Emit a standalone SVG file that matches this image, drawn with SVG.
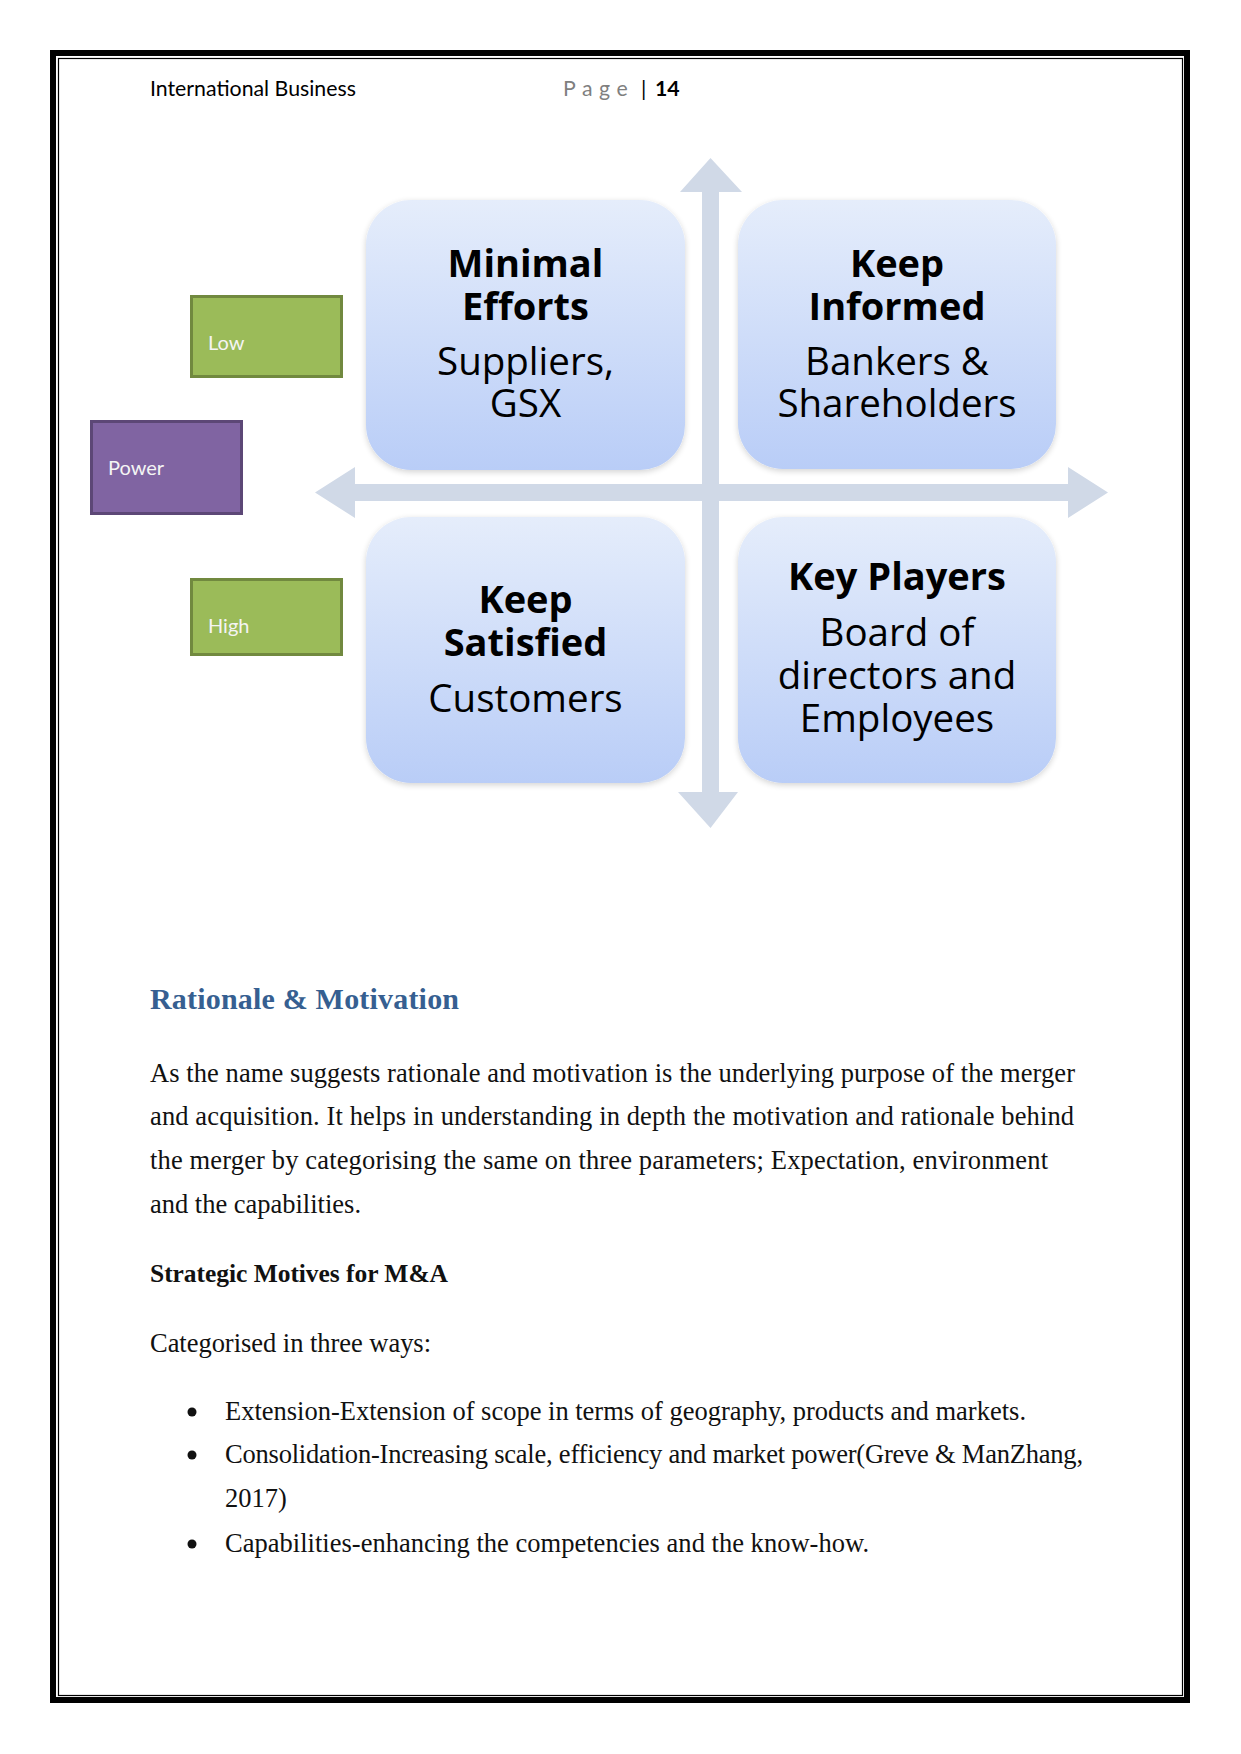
<svg xmlns="http://www.w3.org/2000/svg" width="1241" height="1754" viewBox="0 0 1241 1754">
<style>
.hdr{font-family:Lato,"Open Sans",sans-serif;font-size:21.3px;fill:#000}
.qb{font-family:"Open Sans",Lato,sans-serif;font-weight:bold;font-size:38px;fill:#000;text-anchor:middle}
.qr{font-family:"Open Sans",Lato,sans-serif;font-size:38.5px;fill:#000;text-anchor:middle}
.lbl{font-family:Lato,"Open Sans",sans-serif;font-size:20px;fill:#f4f4f4}
.quad{fill:url(#qg);filter:url(#sh)}
.green{fill:#9bbb59;stroke:#71893f;stroke-width:3}
.purple{fill:#8064a2;stroke:#5c4776;stroke-width:3}
.axis{fill:#d0d9e7}
.body{font-family:"Liberation Serif",serif;font-size:26.5px;fill:#111}
.h1{font-family:"Liberation Serif",serif;font-size:30px;font-weight:bold;fill:#365f91}
.h2{font-family:"Liberation Serif",serif;font-size:25.5px;font-weight:bold;fill:#111}
</style>
<defs>
<linearGradient id="qg" x1="0" y1="0" x2="0" y2="1">
<stop offset="0" stop-color="#e5edfb"/>
<stop offset="1" stop-color="#b9cdf7"/>
</linearGradient>
<filter id="sh" x="-10%" y="-10%" width="120%" height="120%">
<feGaussianBlur in="SourceAlpha" stdDeviation="3"/>
<feOffset dx="0" dy="2" result="b"/>
<feComponentTransfer><feFuncA type="linear" slope="0.18"/></feComponentTransfer>
<feMerge><feMergeNode/><feMergeNode in="SourceGraphic"/></feMerge>
</filter>
</defs>
<rect x="0" y="0" width="1241" height="1754" fill="#fff"/>
<g id="page-border" fill="none" stroke="#000">
<rect x="53" y="53" width="1134" height="1647" stroke-width="6"/>
<rect x="58.5" y="58.5" width="1124" height="1637" stroke-width="1.2"/>
</g>
<g id="header">
<text class="hdr" x="150" y="96">International Business</text>
<text class="hdr" x="563" y="96" style="fill:#7f7f7f;letter-spacing:6.5px">Page</text>
<text class="hdr" x="641" y="96">|</text>
<text class="hdr" x="655" y="96" font-weight="bold">14</text>
</g>
<g id="connectors">
<polygon class="axis" points="702,192 680,192 710.5,158 742,192 719,192 719,792 738,792 710.5,828 678,792 702,792"/>
<polygon class="axis" points="355,484 355,467 315,492.5 355,518 355,501 1068,501 1068,518 1108,492.5 1068,467 1068,484"/>
</g>
<g id="node-low">
<rect class="green" x="191.5" y="296.5" width="150" height="80"/>
<text class="lbl" x="208" y="350">Low</text>
</g>
<g id="node-power">
<rect class="purple" x="91.5" y="421.5" width="150" height="92"/>
<text class="lbl" x="108" y="475">Power</text>
</g>
<g id="node-high">
<rect class="green" x="191.5" y="579.5" width="150" height="75"/>
<text class="lbl" x="208" y="633">High</text>
</g>
<g id="node-minimal-efforts">
<rect class="quad" x="366" y="200" width="319" height="270" rx="45"/>
<text class="qb" x="525.5" y="277">Minimal</text>
<text class="qb" x="525.5" y="320">Efforts</text>
<text class="qr" x="525.5" y="375">Suppliers,</text>
<text class="qr" x="525.5" y="417">GSX</text>
</g>
<g id="node-keep-informed">
<rect class="quad" x="738" y="200" width="318" height="269" rx="45"/>
<text class="qb" x="897" y="277">Keep</text>
<text class="qb" x="897" y="320">Informed</text>
<text class="qr" x="897" y="375">Bankers &amp;</text>
<text class="qr" x="897" y="417">Shareholders</text>
</g>
<g id="node-keep-satisfied">
<rect class="quad" x="366" y="517" width="319" height="266" rx="45"/>
<text class="qb" x="525.5" y="613">Keep</text>
<text class="qb" x="525.5" y="656">Satisfied</text>
<text class="qr" x="525.5" y="712">Customers</text>
</g>
<g id="node-key-players">
<rect class="quad" x="738" y="517" width="318" height="266" rx="45"/>
<text class="qb" x="897" y="590">Key Players</text>
<text class="qr" x="897" y="646">Board of</text>
<text class="qr" x="897" y="689">directors and</text>
<text class="qr" x="897" y="732">Employees</text>
</g>
<g id="text-section">
<text class="h1" x="150" y="1009" textLength="309">Rationale &amp; Motivation</text>
<text class="body" x="150" y="1082" textLength="925">As the name suggests rationale and motivation is the underlying purpose of the merger</text>
<text class="body" x="150" y="1125" textLength="924">and acquisition. It helps in understanding in depth the motivation and rationale behind</text>
<text class="body" x="150" y="1169" textLength="898">the merger by categorising the same on three parameters; Expectation, environment</text>
<text class="body" x="150" y="1213" textLength="211">and the capabilities.</text>
<text class="h2" x="150" y="1282" textLength="298">Strategic Motives for M&amp;A</text>
<text class="body" x="150" y="1352" textLength="281">Categorised in three ways:</text>
<circle cx="192" cy="1412" r="4.5" fill="#111"/>
<text class="body" x="225" y="1420" textLength="801">Extension-Extension of scope in terms of geography, products and markets.</text>
<circle cx="192" cy="1455" r="4.5" fill="#111"/>
<text class="body" x="225" y="1463" textLength="858">Consolidation-Increasing scale, efficiency and market power(Greve &amp; ManZhang,</text>
<text class="body" x="225" y="1507">2017)</text>
<circle cx="192" cy="1544" r="4.5" fill="#111"/>
<text class="body" x="225" y="1552" textLength="644">Capabilities-enhancing the competencies and the know-how.</text>
</g>
</svg>
